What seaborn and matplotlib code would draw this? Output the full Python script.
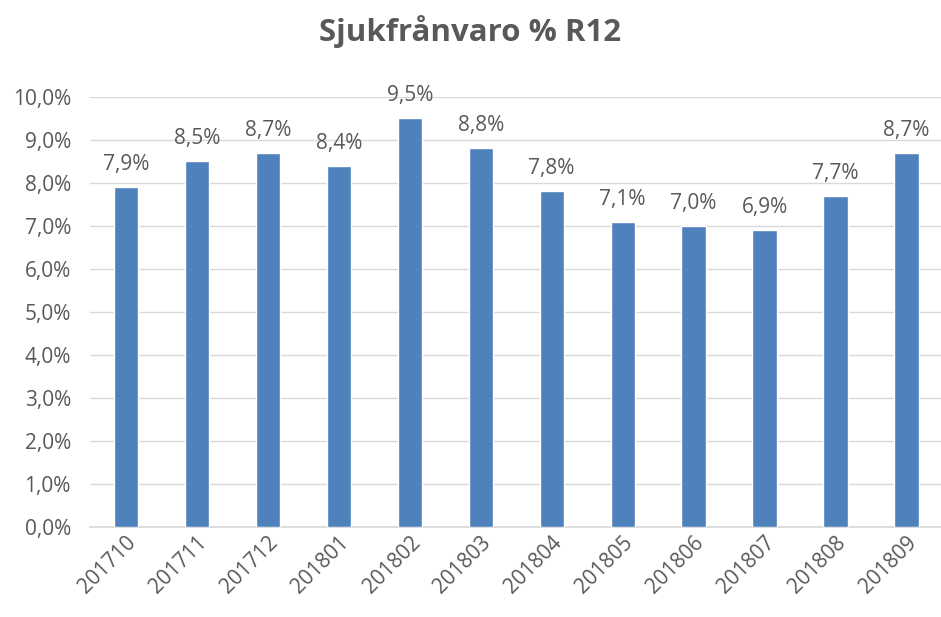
import matplotlib
matplotlib.use("Agg")
import matplotlib.pyplot as plt
import seaborn as sns
import pandas as pd
from matplotlib.ticker import FuncFormatter

# data
perioder = ["201710", "201711", "201712", "201801", "201802", "201803",
            "201804", "201805", "201806", "201807", "201808", "201809"]
franvaro = [7.9, 8.5, 8.7, 8.4, 9.5, 8.8, 7.8, 7.1, 7.0, 6.9, 7.7, 8.7]

df = pd.DataFrame({"period": perioder, "varde": franvaro})

sns.set_theme(style="white")
plt.rcParams["font.family"] = ["Open Sans", "DejaVu Sans"]

grey = "#595959"
fig = plt.figure(figsize=(9.41, 6.17), dpi=100)
ax = fig.add_axes([0.096, 0.146, 0.905, 0.697])

sns.barplot(data=df, x="period", y="varde", color="#4f81bd", width=0.34,
            saturation=1, ax=ax, zorder=3)

ax.set_ylim(0, 10)
ax.set_yticks(range(0, 11))
ax.yaxis.set_major_formatter(FuncFormatter(lambda v, p: f"{v:.1f}%".replace(".", ",")))
ax.grid(axis="y", color="#d9d9d9", linewidth=1, zorder=0)
for s in ["top", "right", "left"]:
    ax.spines[s].set_visible(False)
ax.spines["bottom"].set_color("#d9d9d9")
ax.set_xlabel("")
ax.set_ylabel("")
ax.tick_params(axis="both", colors=grey, labelsize=15, length=0)
ax.tick_params(axis="y", pad=14)
plt.setp(ax.get_xticklabels(), rotation=45, ha="right", rotation_mode="anchor")

for i, v in enumerate(franvaro):
    ax.text(i, v + 0.28, f"{v:.1f}%".replace(".", ","), ha="center", va="bottom",
            fontsize=15, color=grey)

fig.suptitle("Sjukfrånvaro % R12", x=0.5, y=0.975, fontsize=22.5,
             fontweight="bold", color=grey)

fig.savefig("out.png", dpi=100)
